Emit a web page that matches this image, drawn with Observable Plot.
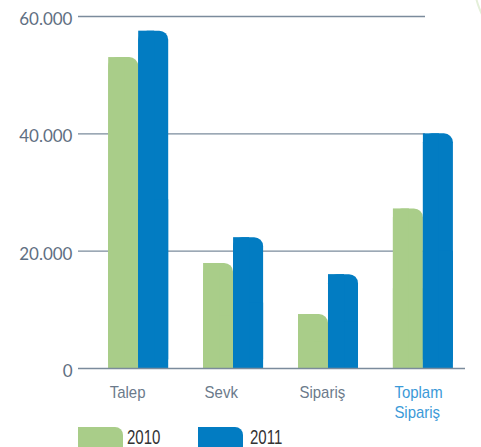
<!DOCTYPE html>
<html>
<head>
<meta charset="utf-8">
<script src="https://cdn.jsdelivr.net/npm/d3@7"></script>
<script src="https://cdn.jsdelivr.net/npm/@observablehq/plot@0.6"></script>
<style>
  html, body { margin: 0; padding: 0; background: #fff; overflow: hidden; width: 481px; height: 447px; }
  #wrap { position: relative; width: 481px; height: 447px; overflow: hidden; }
  #deco { position: absolute; left: 473px; top: -99px; width: 158px; height: 158px; border-radius: 50%; border: 2px solid #e4efd9; box-sizing: border-box; }
  #legend { position: relative; height: 23px; font-family: "Liberation Sans", Arial, sans-serif; font-size: 20px; color: #333; }
  .sw { position: absolute; top: 3px; height: 21px; border-top-right-radius: 8px; }
  .lt { position: absolute; top: 3px; line-height: 20px; transform: scaleX(0.75); transform-origin: 0 0; }
</style>
</head>
<body>
<div id="wrap">
  <div id="deco"></div>
  <div id="chart"></div>
  <div id="legend"></div>
</div>
<script>
// ---- data ----
const categories = ["Talep", "Sevk", "Sipariş", "Toplam\nSipariş"];
const values2010 = [53000, 17900, 9200, 27200];
const values2011 = [57500, 22300, 16000, 40000];
const years = ["2010", "2011"];
const yTicks = [0, 20000, 40000, 60000];

const green = "#a9cd89";
const blue = "#027cc2";
const gray = "#5f6f82";
const catGray = "#6b7a8b";
const linkBlue = "#3b9ad8";
const gridColor = "#7b8b9c";

const data = categories.map((c, i) => ({cat: c, v2010: values2010[i], v2011: values2011[i]}));

const fmt = d => d3.format(",")(d).replace(/,/g, ".");
const catFont = '"Liberation Sans", Arial, sans-serif';

const chart = Plot.plot({
  width: 481,
  height: 424,
  marginLeft: 78,
  marginRight: 16,
  marginTop: 16,
  marginBottom: 56,
  x: {domain: categories, paddingInner: 0.3677, paddingOuter: 0.2228, align: 0.714, round: false, label: null},
  y: {domain: [0, 60000], label: null},
  marks: [
    Plot.ruleY(yTicks.filter(d => d > 0), {stroke: gridColor, strokeWidth: 1.4, insetRight: 40}),
    // 2010 bars (rounded top-right corner)
    Plot.barY(data, {x: "cat", y: "v2010", fill: green, insetRight: 30, rx: 9}),
    Plot.barY(data, {x: "cat", y: d => d.v2010 / 2, fill: green, insetRight: 30}),
    Plot.barY(data, {x: "cat", y: "v2010", fill: green, insetRight: 44}),
    // 2011 bars
    Plot.barY(data, {x: "cat", y: "v2011", fill: blue, insetLeft: 30, rx: 9}),
    Plot.barY(data, {x: "cat", y: d => d.v2011 / 2, fill: blue, insetLeft: 30}),
    Plot.barY(data, {x: "cat", y: "v2011", fill: blue, insetLeft: 30, insetRight: 14}),
    Plot.ruleY([0], {stroke: gridColor, strokeWidth: 1.4}),
    Plot.axisY({ticks: yTicks, tickFormat: fmt, tickSize: 0, tickPadding: 6, dy: 3,
      fontSize: 17, fontFamily: "Lato, sans-serif", fill: gray, label: null}),
    Plot.axisX({ticks: categories.slice(0, 3), tickSize: 0, tickPadding: 15, textAnchor: "start", dx: -29,
      fontSize: 17, fontFamily: catFont, fill: catGray, label: null, lineHeight: 1.2}),
    Plot.axisX({ticks: categories.slice(3), tickSize: 0, tickPadding: 15, textAnchor: "start", dx: -29,
      fontSize: 17, fontFamily: catFont, fill: linkBlue, label: null, lineHeight: 1.2})
  ]
});
chart.style.display = "block";
document.getElementById("chart").appendChild(chart);

// condense category labels slightly (reference uses a narrower face)
chart.querySelectorAll("text").forEach(t => {
  const lab = categories.some(c => (t.textContent || "").length && c.replace("\n", "") === t.textContent.replace(/\s/g, ""));
  if (!lab) return;
  const parts = t.querySelectorAll("tspan");
  const els = parts.length ? Array.from(parts) : [t];
  els.forEach(el => {
    const len = el.getComputedTextLength();
    el.setAttribute("textLength", (len * 0.88).toFixed(1));
    el.setAttribute("lengthAdjust", "spacingAndGlyphs");
  });
});

// ---- legend ----
const legend = document.getElementById("legend");
const legendItems = [
  {label: years[0], color: green, sx: 78, tx: 127},
  {label: years[1], color: blue, sx: 198, tx: 250}
];
legendItems.forEach(it => {
  const sw = document.createElement("div");
  sw.className = "sw";
  sw.style.left = it.sx + "px";
  sw.style.width = "45px";
  sw.style.background = it.color;
  legend.appendChild(sw);
  const t = document.createElement("div");
  t.className = "lt";
  t.style.left = it.tx + "px";
  t.textContent = it.label;
  legend.appendChild(t);
});
</script>
</body>
</html>
